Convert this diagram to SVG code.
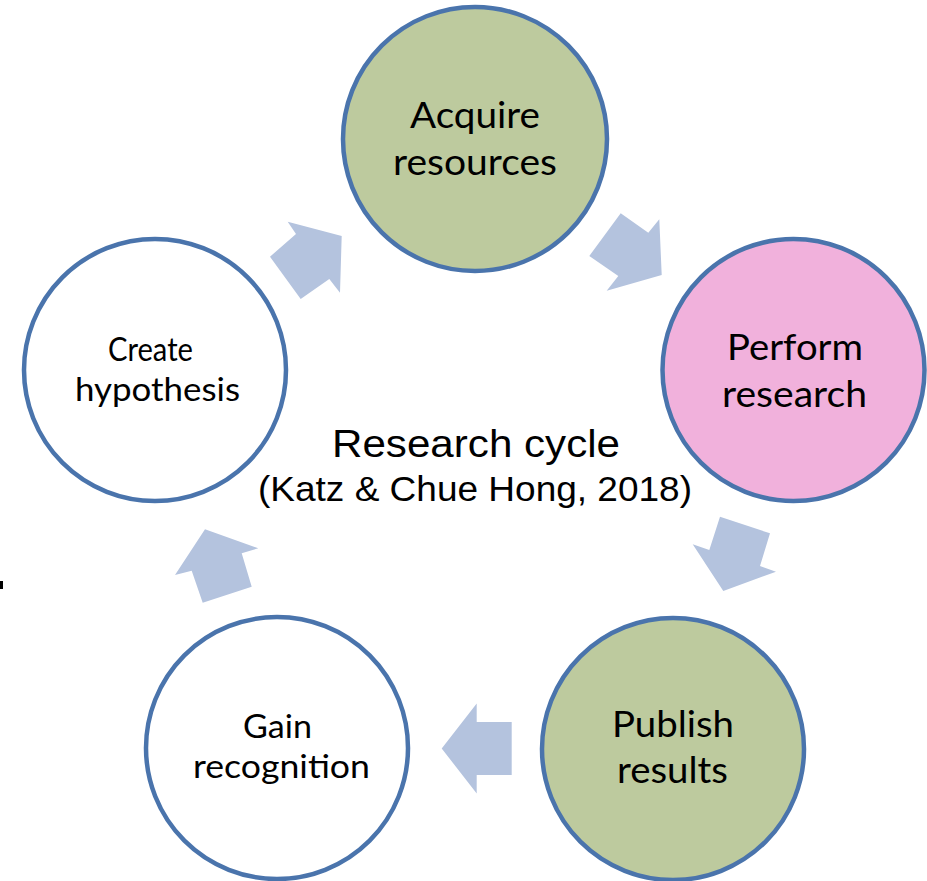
<svg xmlns="http://www.w3.org/2000/svg" width="927" height="881" viewBox="0 0 927 881">
<style>
.node{stroke:#4A74AC;stroke-width:4.5}
.green{fill:#BDCA9E}
.pink{fill:#F1B1DC}
.white{fill:#FFFFFF}
.lbl{font-family:Lato,"Open Sans",sans-serif;fill:#000;text-anchor:middle}
.big{font-size:37px}
.small{font-size:32px}
.arrow{fill:#B4C3DE;stroke:none}
.title{font-family:"Liberation Sans",Arial,sans-serif;fill:#000;text-anchor:middle}
</style>
<rect x="0" y="0" width="927" height="881" fill="#FFFFFF"/>
<g id="connectors">
<polygon class="arrow" points="287.7,221.7 296,234 270,256.7 300.7,299 329.3,279 340,292.7 341.7,236"/>
<polygon class="arrow" points="620.7,213.3 648.3,232.7 659.3,219.3 661.7,275 606.7,290.7 618.3,276 589.3,256"/>
<polygon class="arrow" points="720,516.7 770,533.3 760,566 776,571.7 723.3,591 692.7,544.3 709.3,550"/>
<polygon class="arrow" points="441.7,748.5 476.7,703.5 476.7,722 511.7,722 511.7,775 476.7,775 476.7,793.5"/>
<polygon class="arrow" points="205,529.3 258.3,548.3 241.7,553.3 251.7,586.7 202.7,602.7 191.7,570.7 175,575"/>
</g>
<g id="acquire">
<circle class="node green" cx="475" cy="139" r="132"/>
<text class="lbl big" x="475" y="128" textLength="130" lengthAdjust="spacingAndGlyphs">Acquire</text>
<text class="lbl big" x="475" y="175" textLength="164" lengthAdjust="spacingAndGlyphs">resources</text>
</g>
<g id="perform">
<circle class="node pink" cx="793.5" cy="370" r="131"/>
<text class="lbl big" x="795" y="360" textLength="136" lengthAdjust="spacingAndGlyphs">Perform</text>
<text class="lbl big" x="794.5" y="407" textLength="145" lengthAdjust="spacingAndGlyphs">research</text>
</g>
<g id="publish">
<circle class="node green" cx="673" cy="749" r="131"/>
<text class="lbl big" x="673" y="737" textLength="122" lengthAdjust="spacingAndGlyphs">Publish</text>
<text class="lbl big" x="672.5" y="783" textLength="111" lengthAdjust="spacingAndGlyphs">results</text>
</g>
<g id="gain">
<circle class="node white" cx="277" cy="748" r="131"/>
<text class="lbl small" x="277.5" y="738" textLength="69" lengthAdjust="spacingAndGlyphs">Gain</text>
<text class="lbl small" x="281.5" y="778" textLength="177" lengthAdjust="spacingAndGlyphs">recognition</text>
</g>
<g id="create">
<circle class="node white" cx="155" cy="370" r="131"/>
<text class="lbl small" x="150.5" y="361" textLength="85" lengthAdjust="spacingAndGlyphs">Create</text>
<text class="lbl small" x="157.5" y="401" textLength="165" lengthAdjust="spacingAndGlyphs">hypothesis</text>
</g>
<g id="center-label">
<text class="title" x="476" y="457" font-size="38" textLength="288" lengthAdjust="spacingAndGlyphs">Research cycle</text>
<text class="title" x="475" y="501" font-size="35" textLength="434" lengthAdjust="spacingAndGlyphs">(Katz &amp; Chue Hong, 2018)</text>
</g>
<rect x="0" y="581" width="3" height="8" fill="#000000"/>
</svg>
